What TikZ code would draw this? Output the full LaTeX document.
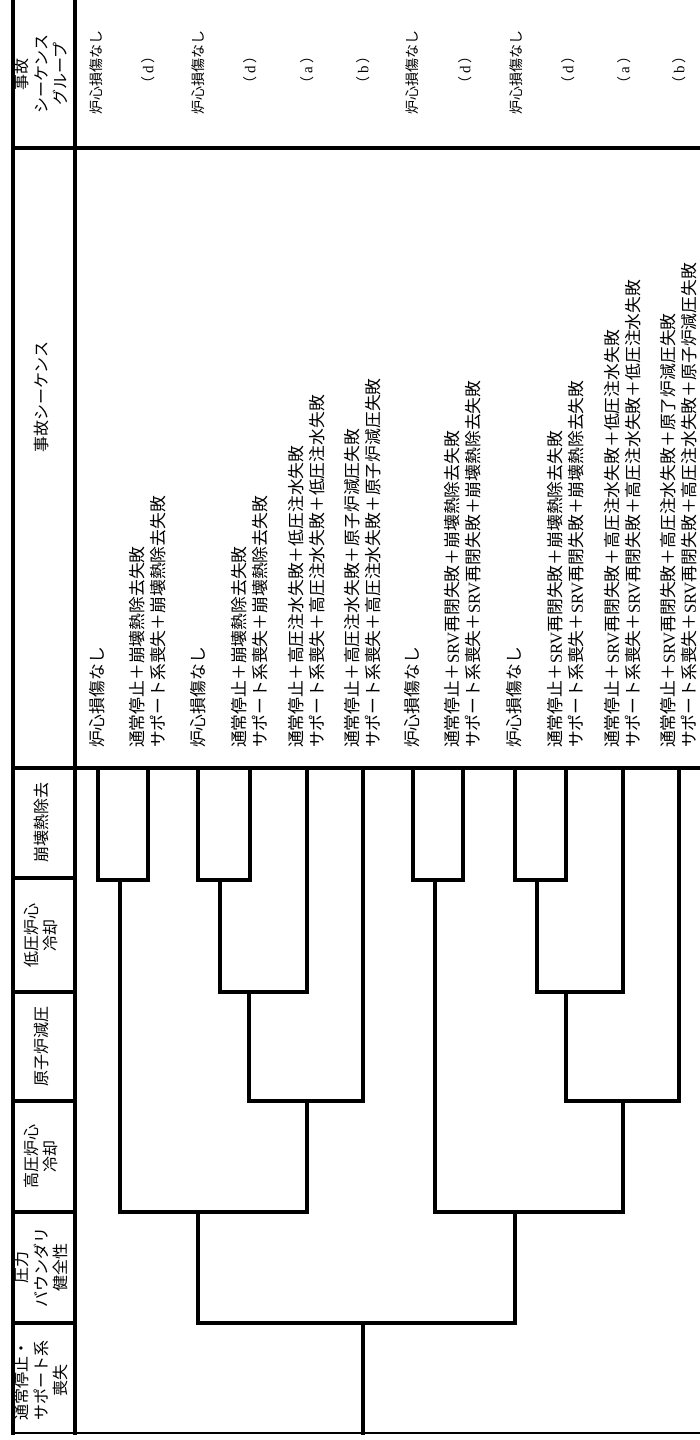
\documentclass[tikz,border=0pt]{standalone}
\usepackage{fontspec}
\setmainfont{Liberation Serif}
\newfontfamily\jp{Noto Sans CJK JP}
\newcommand\SRVt{{\rmfamily SRV}}
\newcommand\grpl[1]{（\hspace{3pt}{\rmfamily\fontsize{15}{18}\selectfont #1}\hspace{3pt}）}
\begin{document}
\begin{tikzpicture}[x=1pt,y=-1pt,
  frame/.style={line width=3.5pt, line cap=rect},
  tree/.style={line width=3.5pt, line join=miter, line cap=rect},
  seqtext/.style={rotate=90, anchor=west, inner sep=0pt, align=left, font={\jp\fontsize{16.8}{21}\selectfont}},
  grptext/.style={rotate=90, anchor=center, inner sep=0pt, font={\jp\fontsize{14}{18}\selectfont}},
  headtext/.style={rotate=90, anchor=center, inner sep=0pt, align=center, font={\jp\fontsize{16}{19.5}\selectfont}}]
\fill[white] (0,0) rectangle (700,1440);
\useasboundingbox (0,0) rectangle (700,1440);

% frame
\draw[frame] (13,-5) -- (13,1433);
\draw[frame] (75,-5) -- (75,1433);
\draw[frame] (13,148) -- (705,148);
\draw[frame] (13,768) -- (705,768);
\foreach \yy in {878,992,1101,1212,1323} {\draw[frame] (13,\yy) -- (75,\yy);}
\draw[line width=2.5pt] (13,1433) -- (705,1433);

% headers
\node[headtext] (h1) at (41,1380) {通常停止・\\サポート系\\喪失};
\node[headtext] (h2) at (41,1267) {圧力\\バウンダリ\\健全性};
\node[headtext] (h3) at (41,1156) {高圧炉心\\冷却};
\node[headtext] (h4) at (41,1046) {原子炉減圧};
\node[headtext] (h5) at (41,935) {低圧炉心\\冷却};
\node[headtext] (h6) at (41,822) {崩壊熱除去};
\node[headtext] (h7) at (41,397) {事故シーケンス};
\node[headtext] (h8) at (41,74) {事故\\シーケンス\\グループ};

% end points
\coordinate (e1) at (98,768);
\coordinate (e2) at (148,768);
\coordinate (e3) at (198,768);
\coordinate (e4) at (250,768);
\coordinate (e5) at (307,768);
\coordinate (e6) at (363,768);
\coordinate (e7) at (413,768);
\coordinate (e8) at (463,768);
\coordinate (e9) at (515,768);
\coordinate (e10) at (566,768);
\coordinate (e11) at (623,768);
\coordinate (e12) at (679,768);
% junctions
\coordinate (jA12) at (120,880);
\coordinate (jA34) at (220,880);
\coordinate (jA345) at (249,992);
\coordinate (jA3456) at (307,1101);
\coordinate (jA) at (198,1212);
\coordinate (jB12) at (435,880);
\coordinate (jB34) at (537,880);
\coordinate (jB345) at (566,992);
\coordinate (jB3456) at (623,1101);
\coordinate (jB) at (515,1212);
\coordinate (root) at (363,1323);
\coordinate (ie) at (363,1433);

% tree
\draw[tree] (e1) |- (jA12) -| (e2);
\draw[tree] (e3) |- (jA34) -| (e4);
\draw[tree] (jA34) |- (jA345) -| (e5);
\draw[tree] (jA345) |- (jA3456) -| (e6);
\draw[tree] (jA12) |- (jA) -| (jA3456);
\draw[tree] (e7) |- (jB12) -| (e8);
\draw[tree] (e9) |- (jB34) -| (e10);
\draw[tree] (jB34) |- (jB345) -| (e11);
\draw[tree] (jB345) |- (jB3456) -| (e12);
\draw[tree] (jB12) |- (jB) -| (jB3456);
\draw[tree] (jA) |- (root) -| (jB);
\draw[tree] (root) -- (ie);

% sequences
\node[seqtext] (s1) at (97,748) {炉心損傷なし};
\node[seqtext] (s2) at (148,748) {通常停止＋崩壊熱除去失敗\\サポート系喪失＋崩壊熱除去失敗};
\node[seqtext] (s3) at (198,748) {炉心損傷なし};
\node[seqtext] (s4) at (250,748) {通常停止＋崩壊熱除去失敗\\サポート系喪失＋崩壊熱除去失敗};
\node[seqtext] (s5) at (307,748) {通常停止＋高圧注水失敗＋低圧注水失敗\\サポート系喪失＋高圧注水失敗＋低圧注水失敗};
\node[seqtext] (s6) at (363,748) {通常停止＋高圧注水失敗＋原子炉減圧失敗\\サポート系喪失＋高圧注水失敗＋原子炉減圧失敗};
\node[seqtext] (s7) at (412,748) {炉心損傷なし};
\node[seqtext] (s8) at (463,748) {通常停止＋\SRVt 再閉失敗＋崩壊熱除去失敗\\サポート系喪失＋\SRVt 再閉失敗＋崩壊熱除去失敗};
\node[seqtext] (s9) at (514,748) {炉心損傷なし};
\node[seqtext] (s10) at (566,748) {通常停止＋\SRVt 再閉失敗＋崩壊熱除去失敗\\サポート系喪失＋\SRVt 再閉失敗＋崩壊熱除去失敗};
\node[seqtext] (s11) at (623,748) {通常停止＋\SRVt 再閉失敗＋高圧注水失敗＋低圧注水失敗\\サポート系喪失＋\SRVt 再閉失敗＋高圧注水失敗＋低圧注水失敗};
\node[seqtext] (s12) at (679,748) {通常停止＋\SRVt 再閉失敗＋高圧注水失敗＋原了炉減圧失敗\\サポート系喪失＋\SRVt 再閉失敗＋高圧注水失敗＋原子炉減圧失敗};

% groups
\node[grptext] (g1) at (96,72) {炉心損傷なし};
\node[grptext] (g2) at (148,70) {\grpl{d}};
\node[grptext] (g3) at (198,72) {炉心損傷なし};
\node[grptext] (g4) at (250,70) {\grpl{d}};
\node[grptext] (g5) at (307,70) {\grpl{a}};
\node[grptext] (g6) at (363,70) {\grpl{b}};
\node[grptext] (g7) at (412,72) {炉心損傷なし};
\node[grptext] (g8) at (465,70) {\grpl{d}};
\node[grptext] (g9) at (516,72) {炉心損傷なし};
\node[grptext] (g10) at (568,70) {\grpl{d}};
\node[grptext] (g11) at (624,70) {\grpl{a}};
\node[grptext] (g12) at (679,70) {\grpl{b}};
\end{tikzpicture}
\end{document}
